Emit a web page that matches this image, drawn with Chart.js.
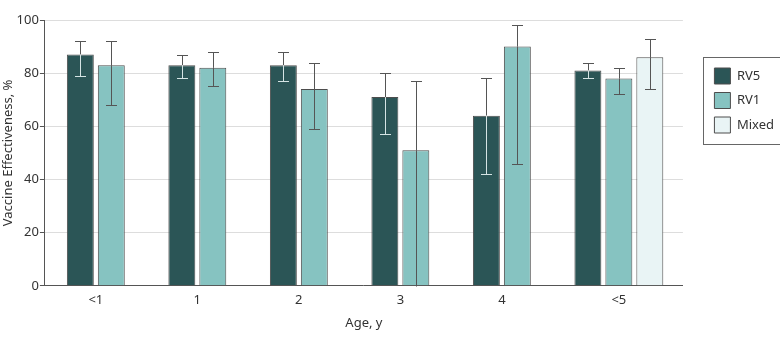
<!DOCTYPE html>
<html>
<head>
<meta charset="utf-8">
<script src="https://cdn.jsdelivr.net/npm/chart.js@4.4.1/dist/chart.umd.min.js"></script>
<style>
  html, body { margin: 0; padding: 0; background: #fff; }
  #wrap { width: 780px; height: 339px; }
</style>
</head>
<body>
<div id="wrap"><canvas id="veChart"></canvas></div>
<script>
// data (point estimate with 95% CI)
var ageGroups = ["<1", "1", "2", "3", "4", "<5"];
var rv5Values = [87, 83, 83, 71, 64, 81];
var rv5Lower = [79, 78, 77, 57, 42, 78];
var rv5Upper = [92, 87, 88, 80, 78, 84];
var rv1Values = [83, 82, 74, 51, 90, 78];
var rv1Lower = [68, 75, 59, -30, 46, 72];
var rv1Upper = [92, 88, 84, 77, 98, 82];
var mixedValues = [null, null, null, null, null, 86];
var mixedLower = [null, null, null, null, null, 74];
var mixedUpper = [null, null, null, null, null, 93];
var yTicks = [0, 20, 40, 60, 80, 100];

// bars sit left aligned in each age slot, one bar pitch apart
var BAR_STEP = 0.305;

var series = [
    { label: "RV5", values: rv5Values, lower: rv5Lower, upper: rv5Upper, fill: "#2b5556", inner: "#d5e4e4" },
    { label: "RV1", values: rv1Values, lower: rv1Lower, upper: rv1Upper, fill: "#86c3c1", inner: "#555555" },
    { label: "Mixed", values: mixedValues, lower: mixedLower, upper: mixedUpper, fill: "#e9f4f5", inner: "#555555" },
];

// how many bars each age group has, and where its label goes
var barCounts = ageGroups.map(function (g, i) {
    return series.filter(function (s) { return s.values[i] !== null; }).length;
});
var labelPositions = barCounts.map(function (n, i) {
    return i + (n - 1) / 2 * BAR_STEP;
});

var datasets = series.map(function (s, si) {
    var points = [], lows = [], highs = [];
    s.values.forEach(function (v, i) {
        if (v === null) return;
        var slot = 0;
        for (var k = 0; k < si; k++) if (series[k].values[i] !== null) slot++;
        points.push({ x: i + slot * BAR_STEP, y: v });
        lows.push(s.lower[i]);
        highs.push(s.upper[i]);
    });
    return {
        label: s.label,
        data: points,
        errLow: lows,
        errHigh: highs,
        innerColor: s.inner,
        backgroundColor: s.fill,
        borderColor: "#4d4d4d",
        borderWidth: 1,
        borderSkipped: "bottom",
        grouped: false,
        categoryPercentage: 1,
        barPercentage: 0.87,
    };
});

// whiskers, light where they run over a dark bar
var errorBarPlugin = {
    id: "errorBars",
    afterDatasetsDraw: function (chart) {
        var ctx = chart.ctx;
        var yScale = chart.scales.y;
        ctx.save();
        ctx.lineWidth = 1;
        chart.data.datasets.forEach(function (ds, di) {
            var meta = chart.getDatasetMeta(di);
            meta.data.forEach(function (bar, i) {
                var lo = ds.errLow[i], hi = ds.errHigh[i];
                if (lo === null || hi === null) return;
                var x = Math.round(bar.x) + 0.5;
                var top = bar.y;
                var yHi = Math.round(yScale.getPixelForValue(hi)) + 0.5;
                var yLo = Math.round(yScale.getPixelForValue(Math.max(lo, yScale.min))) + 0.5;
                var colorAt = function (py) { return py > top + 0.5 ? ds.innerColor : "#555555"; };
                var split = Math.min(Math.max(top, yHi), yLo);
                ctx.strokeStyle = "#555555";
                ctx.beginPath(); ctx.moveTo(x, yHi); ctx.lineTo(x, split); ctx.stroke();
                ctx.strokeStyle = ds.innerColor;
                ctx.beginPath(); ctx.moveTo(x, split); ctx.lineTo(x, yLo); ctx.stroke();
                ctx.strokeStyle = colorAt(yHi);
                ctx.beginPath(); ctx.moveTo(x - 5.5, yHi); ctx.lineTo(x + 5.5, yHi); ctx.stroke();
                if (lo >= yScale.min) {
                    ctx.strokeStyle = colorAt(yLo);
                    ctx.beginPath(); ctx.moveTo(x - 5.5, yLo); ctx.lineTo(x + 5.5, yLo); ctx.stroke();
                }
            });
        });
        ctx.restore();
    },
};

// legend sits in a framed box to the right, upper part of the plot
var legendBoxPlugin = {
    id: "legendBox",
    afterLayout: function (chart) {
        var lg = chart.legend, area = chart.chartArea;
        var w = lg.width, h = lg.height;
        lg.left = area.right + 23;
        lg.top = area.top + 39.5;
        lg.right = lg.left + w;
        lg.bottom = lg.top + h;
    },
    afterDraw: function (chart) {
        var ctx = chart.ctx, area = chart.chartArea;
        ctx.save();
        ctx.strokeStyle = "#666666";
        ctx.lineWidth = 1;
        ctx.strokeRect(Math.round(area.right + 20) + 0.5, Math.round(area.top + 37) + 0.5, 100, 87);
        ctx.restore();
    },
};

Chart.defaults.font.family = '"Noto Sans", sans-serif';
Chart.defaults.font.size = 13;
Chart.defaults.color = "#333333";

new Chart(document.getElementById("veChart").getContext("2d"), {
    type: "bar",
    data: { datasets: datasets },
    plugins: [errorBarPlugin, legendBoxPlugin],
    options: {
        responsive: true,
        maintainAspectRatio: false,
        animation: false,
        layout: { padding: { top: 20, right: 19, bottom: 8, left: 0 } },
        plugins: {
            tooltip: { enabled: false },
            legend: {
                position: "right",
                align: "start",
                labels: { boxWidth: 16, boxHeight: 16, padding: 8.5, color: "#333333" },
            },
        },
        scales: {
            x: {
                type: "linear",
                offset: false,
                min: -0.349,
                max: 5.936,
                grid: { display: false, drawTicks: false },
                border: { display: true, color: "#555555" },
                afterBuildTicks: function (scale) {
                    scale.ticks = labelPositions.map(function (v) { return { value: v }; });
                },
                ticks: {
                    autoSkip: false,
                    maxRotation: 0,
                    padding: 7,
                    callback: function (value, index) { return ageGroups[index]; },
                },
                title: { display: true, text: "Age, y", padding: { top: 0, bottom: 0 } },
            },
            y: {
                min: 0,
                max: 100,
                afterBuildTicks: function (scale) {
                    scale.ticks = yTicks.map(function (v) { return { value: v }; });
                },
                grid: { color: "#dddddd", tickColor: "#555555", tickLength: 5 },
                border: { color: "#555555" },
                ticks: { padding: 1 },
                title: { display: true, text: "Vaccine Effectiveness, %", padding: { top: 0, bottom: 0 } },
            },
        },
    },
});
</script>
</body>
</html>
